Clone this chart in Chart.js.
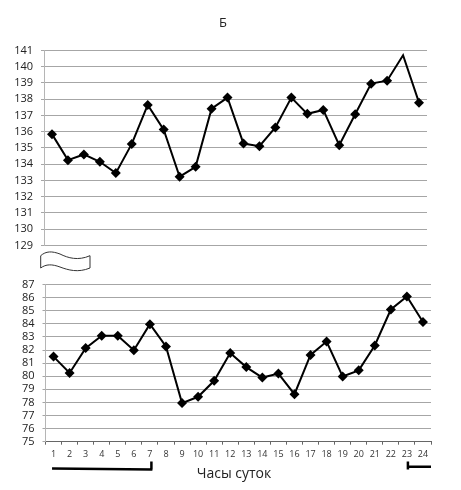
<!DOCTYPE html>
<html>
<head>
<meta charset="utf-8">
<script src="https://cdn.jsdelivr.net/npm/chart.js@4.4.1/dist/chart.umd.min.js"></script>
<style>
  body { margin: 0; background: #fff; font-family: "Open Sans", sans-serif; }
  #wrap { position: relative; width: 461px; height: 490px; overflow: hidden; }
  #upper { position: absolute; left: 0; top: 0; }
  #lower { position: absolute; left: 0; top: 270px; }
  .lbl { position: absolute; left: 0; color: #222; white-space: nowrap; text-align: center; }
  svg { position: absolute; left: 0; top: 0; }
</style>
</head>
<body>
<div id="wrap">
  <canvas id="upper" width="461" height="260"></canvas>
  <canvas id="lower" width="461" height="220"></canvas>
  <div class="lbl" style="width:446px;top:13px;font-size:13px">Б</div>
  <div class="lbl" style="width:468px;top:463px;font-size:14px">Часы суток</div>
  <svg width="461" height="490">
    <path d="M40.7,255.7 C46,251 52,251 60,254 C68,258 78,261 90,255.7 L90,268 C78,273 68,270 60,267 C52,264 46,264 40.7,268 Z"
          fill="#fff" stroke="#333" stroke-width="1"/>
  </svg>
</div>
<script>
const hours = ['1', '2', '3', '4', '5', '6', '7', '8', '9', '10', '11', '12',
  '13', '14', '15', '16', '17', '18', '19', '20', '21', '22', '23', '24'];

// систолическое (верхняя панель)
const upperValues = [135.85, 134.25, 134.6, 134.15, 133.45, 135.25, 137.65, 136.13,
  133.23, 133.84, 137.42, 138.1, 135.27, 135.11, 136.26, 138.1,
  137.1, 137.34, 135.17, 137.07, 138.96, 139.14, 140.71, 137.79];

// диастолическое (нижняя панель)
const lowerValues = [81.5, 80.25, 82.15, 83.1, 83.1, 81.98, 83.98, 82.28,
  77.95, 78.43, 79.65, 81.78, 80.7, 79.9, 80.2, 78.63,
  81.63, 82.65, 79.98, 80.45, 82.35, 85.1, 86.1, 84.15];

const upperRange = [129, 141];
const lowerRange = [75, 87];

// ночные часы: 23-24 и 1-7
const nightSpans = [['1', '7'], ['23', '24']];

const tickFont = { family: '"Open Sans", sans-serif', size: 11 };
const gridColor = '#a6a6a6';

function lineDataset(values, hideIndex) {
  return {
    data: values,
    borderColor: '#000',
    borderWidth: 2,
    backgroundColor: '#000',
    pointStyle: 'rectRot',
    pointRadius: values.map((v, i) => (i === hideIndex ? 0 : 5)),
    pointBorderWidth: 0,
    tension: 0
  };
}

function yScale(range, width) {
  return {
    min: range[0],
    max: range[1],
    afterFit: (s) => { s.width = width; },
    ticks: { stepSize: 1, autoSkip: false, color: '#222', font: tickFont, padding: 8 },
    grid: { color: gridColor, lineWidth: 1, tickLength: 3 },
    border: { color: '#b5b5b5' }
  };
}

const bracketPlugin = {
  id: 'nightBrackets',
  afterDraw(chart) {
    const ctx = chart.ctx;
    const x = chart.scales.x;
    const a = chart.chartArea;
    ctx.save();
    ctx.strokeStyle = '#000';
    ctx.lineWidth = 2.5;
    // первый отрезок 1–7, засечка справа
    let x0 = x.getPixelForValue(hours.indexOf(nightSpans[0][0])) - 1.5;
    let x1 = x.getPixelForValue(hours.indexOf(nightSpans[0][1])) + 2.5;
    ctx.beginPath();
    ctx.moveTo(x0, 198.5);
    ctx.lineTo(x1, 199.5);
    ctx.moveTo(x1 - 1, 191.5);
    ctx.lineTo(x1 - 1, 199.5);
    ctx.stroke();
    // второй отрезок 23–24, засечка слева
    x0 = x.getPixelForValue(hours.indexOf(nightSpans[1][0]));
    x1 = a.right;
    ctx.beginPath();
    ctx.moveTo(x0, 196.8);
    ctx.lineTo(x1, 196.8);
    ctx.moveTo(x0 + 1, 191.5);
    ctx.lineTo(x0 + 1, 199.5);
    ctx.stroke();
    ctx.restore();
  }
};

const commonOpts = {
  responsive: false,
  animation: false,
  plugins: { legend: { display: false }, tooltip: { enabled: false } }
};

new Chart(document.getElementById('upper'), {
  type: 'line',
  data: { labels: hours, datasets: [lineDataset(upperValues, 22)] },
  options: {
    ...commonOpts,
    layout: { padding: { top: 50.5, bottom: 14, left: 0, right: 34 } },
    scales: {
      x: { display: false, offset: true },
      y: yScale(upperRange, 44)
    }
  }
});

new Chart(document.getElementById('lower'), {
  type: 'line',
  data: { labels: hours, datasets: [lineDataset(lowerValues, -1)] },
  options: {
    ...commonOpts,
    layout: { padding: { top: 11.7, bottom: 28.3, left: 0, right: 30 } },
    scales: {
      x: {
        offset: true,
        afterFit: (s) => { s.height = 20; },
        ticks: { color: '#333', font: { family: '"Open Sans", sans-serif', size: 9 }, padding: 4, maxRotation: 0, autoSkip: false },
        grid: { offset: true, drawOnChartArea: false, drawTicks: true, tickLength: 3, color: '#666' },
        border: { color: '#666' }
      },
      y: yScale(lowerRange, 45.5)
    }
  },
  plugins: [bracketPlugin]
});
</script>
</body>
</html>
